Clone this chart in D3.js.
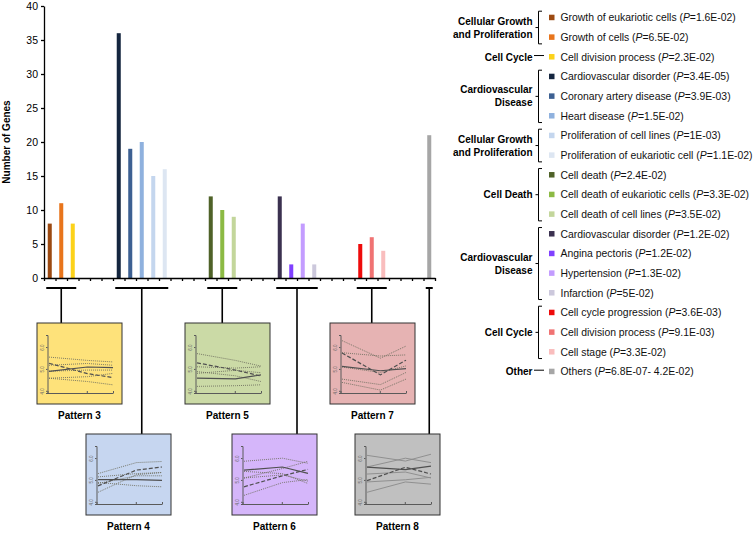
<!DOCTYPE html>
<html>
<head>
<meta charset="utf-8">
<script src="https://cdn.jsdelivr.net/npm/d3@7"></script>
<style>
	body { margin: 0; background: #fff; }
	svg { font-family: "Liberation Sans", Arial, sans-serif; }
</style>
</head>
<body>
<svg id="chart" width="756" height="534"></svg>
<script>
// legend rows / bars, in order
let categories = ['Growth of eukariotic cells', 'Growth of cells', 'Cell division process',
	'Cardiovascular disorder', 'Coronary artery disease', 'Heart disease',
	'Proliferation of cell lines', 'Proliferation of eukariotic cell',
	'Cell death', 'Cell death of eukariotic cells', 'Cell death of cell lines',
	'Cardiovascular disorder', 'Angina pectoris', 'Hypertension', 'Infarction',
	'Cell cycle progression', 'Cell division process', 'Cell stage', 'Others'];
let pValues = ['1.6E-02', '6.5E-02', '2.3E-02', '3.4E-05', '3.9E-03', '1.5E-02', '1E-03', '1.1E-02',
	'2.4E-02', '3.3E-02', '3.5E-02', '1.2E-02', '1.2E-02', '1.3E-02', '5E-02',
	'3.6E-03', '9.1E-03', '3.3E-02', '6.8E-07- 4.2E-02'];
let geneCounts = [8, 11, 8, 36, 19, 20, 15, 16, 12, 10, 9, 12, 2, 8, 2, 5, 6, 4, 21];
// slot on the x axis for each bar
let barSlots = [0, 1, 2, 6, 7, 8, 9, 10, 14, 15, 16, 20, 21, 22, 23, 27, 28, 29, 33];
let barColors = ['#9c4a12', '#e8751c', '#fcd21a', '#15263f', '#3d6092', '#8fb1de', '#c4d6ee', '#dde6f2',
	'#4f6228', '#8cba44', '#c3d69b', '#3b3150', '#8040ff', '#c39cff', '#ccc8dc',
	'#ee0b0b', '#f07373', '#f9bdbd', '#a6a6a6'];
let yTicks = [0, 5, 10, 15, 20, 25, 30, 35, 40];

let functionGroups = [
	{label: ['Cellular Growth', 'and Proliferation'], from: 0, to: 1},
	{label: ['Cell Cycle'], from: 2, to: 2},
	{label: ['Cardiovascular', 'Disease'], from: 3, to: 5},
	{label: ['Cellular Growth', 'and Proliferation'], from: 6, to: 7},
	{label: ['Cell Death'], from: 8, to: 10},
	{label: ['Cardiovascular', 'Disease'], from: 11, to: 14},
	{label: ['Cell Cycle'], from: 15, to: 17},
	{label: ['Other'], from: 18, to: 18}
];

// expression patterns (time points 0,3,5), values on a 4.0-6.0 scale
let patternNames = ['Pattern 3', 'Pattern 4', 'Pattern 5', 'Pattern 6', 'Pattern 7', 'Pattern 8'];
let patternFrom = [0, 3, 8, 11, 15, 18];
let patternTo = [2, 7, 10, 14, 17, 18];
let patternFills = ['#fee27a', '#c6d6f0', '#cbdaa6', '#d5b6fa', '#e6b3b3', '#c0c0c0'];
let miniTimes = [0, 3, 5];
let miniTicks = [4, 5, 6];
let solidLines = [[4.8, 5.0, 4.97], [4.93, 4.93, 4.89], [4.49, 4.46, 4.64], [5.36, 5.5, 5.21], [5.03, 4.83, 4.93], [5.49, 5.38, 5.54]];
let dashedLines = [[5.17, 4.7, 4.52], [4.64, 5.36, 5.5], [5.19, 4.86, 4.59], [4.6, 5.1, 5.39], [5.64, 4.64, 5.31], [4.88, 5.49, 5.18]];
let dottedLines = [
	[[5.45, 5.3, 5.23], [5.08, 5.16, 5.08], [4.81, 4.86, 4.86], [4.49, 4.56, 4.71], [4.49, 4.34, 4.19]],
	[[5.2, 5.7, 5.75], [5.05, 5.2, 5.25], [4.75, 5.1, 5.1], [4.8, 4.65, 4.6], [4.35, 5.15, 5.25]],
	[[5.61, 5.3, 5.04], [5.01, 4.95, 5.01], [4.79, 4.6, 4.34], [4.71, 4.85, 4.74], [4.12, 4.15, 4.19]],
	[[5.76, 5.9, 5.67], [5.0, 5.43, 5.76], [5.0, 5.14, 4.86], [4.21, 4.79, 4.93], [5.3, 5.2, 4.75]],
	[[6.2, 5.4, 5.95], [5.65, 5.5, 5.55], [5.0, 4.75, 5.05], [4.45, 4.2, 4.75], [4.3, 3.95, 4.45]],
	[[6.03, 5.77, 6.08], [5.5, 5.9, 5.7], [5.18, 5.27, 5.0], [4.82, 4.92, 5.03], [4.35, 4.82, 4.72]]
];

// layout
let boxLayout = [[37, 323], [86, 434], [185, 323], [232, 434], [330, 323], [355, 434]];
let boxW = 85, boxH = 81;

let svg = d3.select('#chart');

let x = d3.scaleBand()
	.domain(d3.range(34))
	.range([44, 435])
	.paddingInner(0.65)
	.paddingOuter(0.325);
let xLin = d3.scaleLinear().domain([0, 34]).range([44, 435]);
let y = d3.scaleLinear().domain([0, 40]).range([278, 6]);

// bars
svg.append('g')
	.selectAll('rect')
	.data(geneCounts)
	.join('rect')
	.attr('x', (d, i) => x(barSlots[i]))
	.attr('y', d => y(d))
	.attr('width', x.bandwidth())
	.attr('height', d => y(0) - y(d))
	.attr('fill', (d, i) => barColors[i]);

// axes
let yAxis = svg.append('g')
	.attr('transform', 'translate(44,0)')
	.call(d3.axisLeft(y).tickValues(yTicks).tickSize(3).tickSizeOuter(0));
yAxis.selectAll('text').attr('font-size', 10.5).attr('fill', '#000');
yAxis.selectAll('line, path').attr('stroke', '#000').attr('stroke-width', 1.3);

let xAxis = svg.append('g')
	.attr('transform', 'translate(0,278)')
	.call(d3.axisBottom(xLin).tickValues(d3.range(35)).tickFormat('').tickSize(3).tickSizeOuter(0));
xAxis.selectAll('line, path').attr('stroke', '#000').attr('stroke-width', 1.3);

svg.append('text')
	.attr('transform', 'translate(10,142) rotate(-90)')
	.attr('text-anchor', 'middle')
	.attr('font-size', 10)
	.attr('font-weight', 'bold')
	.text('Number of Genes');

// brackets under axis + patterns
let barCenter = i => x(barSlots[i]) + x.bandwidth() / 2;

patternNames.forEach(function(name, p) {
	let x0 = barCenter(patternFrom[p]) - 3.5;
	let x1 = barCenter(patternTo[p]) + 3.5;
	let cx = (barCenter(patternFrom[p]) + barCenter(patternTo[p])) / 2;
	let bx = boxLayout[p][0], by = boxLayout[p][1];

	svg.append('line')
		.attr('x1', x0).attr('x2', x1).attr('y1', 288).attr('y2', 288)
		.attr('stroke', '#000').attr('stroke-width', 2);
	svg.append('line')
		.attr('x1', cx).attr('x2', cx).attr('y1', 288).attr('y2', by)
		.attr('stroke', '#000').attr('stroke-width', 1.6);

	let g = svg.append('g').attr('transform', 'translate(' + bx + ',' + by + ')');
	g.append('rect')
		.attr('width', boxW).attr('height', boxH)
		.attr('fill', patternFills[p])
		.attr('stroke', '#333').attr('stroke-width', 1);

	let mx = d3.scaleLinear().domain([0, 5]).range([12, 76]);
	let my = d3.scaleLinear().domain([4, 6]).range([66, 22]);

	let ya = g.append('g')
		.attr('transform', 'translate(10.5,0)')
		.call(d3.axisLeft(my.copy().domain([3.9, 6.55]).range([70, 12])).tickValues(miniTicks).tickSize(1.5).tickFormat(d3.format('.1f')));
	ya.selectAll('line, path').attr('stroke', '#5a5a5a').attr('stroke-width', 1);
	ya.selectAll('.tick text')
		.attr('font-size', 4.5).attr('fill', '#666')
		.attr('x', 0).attr('dy', 0).attr('y', -3.5)
		.attr('text-anchor', 'middle')
		.attr('transform', 'rotate(-90)');

	let xa = g.append('g')
		.attr('transform', 'translate(0,70)')
		.call(d3.axisBottom(mx.copy().range([10.5, 76])).tickValues(miniTimes).tickSize(-2).tickFormat('').tickSizeOuter(0));
	xa.selectAll('line, path').attr('stroke', '#5a5a5a').attr('stroke-width', 1);

	let line = d3.line().x((d, i) => mx(miniTimes[i])).y(d => my(d));
	let dotColor = p === 5 ? '#8a8a8a' : '#6f6f60';
	dottedLines[p].forEach(function(vals) {
		g.append('path').attr('d', line(vals)).attr('fill', 'none')
			.attr('stroke', dotColor).attr('stroke-width', 0.9)
			.attr('stroke-dasharray', p === 5 ? null : '1,1');
	});
	g.append('path').attr('d', line(dashedLines[p])).attr('fill', 'none')
		.attr('stroke', '#505050').attr('stroke-width', 1.2).attr('stroke-dasharray', '4,2');
	g.append('path').attr('d', line(solidLines[p])).attr('fill', 'none')
		.attr('stroke', '#505050').attr('stroke-width', 1.2);

	svg.append('text')
		.attr('x', bx + boxW / 2).attr('y', by + boxH + 15)
		.attr('text-anchor', 'middle')
		.attr('font-size', 10).attr('font-weight', 'bold')
		.text(name);
});

// legend
let ly = d3.scalePoint().domain(d3.range(categories.length)).range([17.7, 371.7]);

let legendRows = svg.append('g').selectAll('g')
	.data(categories)
	.join('g')
	.attr('transform', (d, i) => 'translate(0,' + ly(i) + ')');
legendRows.append('rect')
	.attr('x', 549).attr('y', -3).attr('width', 5.5).attr('height', 5.5)
	.attr('fill', (d, i) => barColors[i]);
let lt = legendRows.append('text')
	.attr('x', 560.5).attr('dy', '0.35em')
	.attr('font-size', 10.4)
	.attr('fill', '#111');
lt.append('tspan').text(d => d + ' (');
lt.append('tspan').attr('font-style', 'italic').text('P');
lt.append('tspan').text((d, i) => '=' + pValues[i] + ')');

functionGroups.forEach(function(gr) {
	let y0 = ly(gr.from), y1 = ly(gr.to), mid = (y0 + y1) / 2;
	let txt = svg.append('text')
		.attr('x', 532.5)
		.attr('text-anchor', 'end')
		.attr('font-size', 10)
		.attr('font-weight', 'bold');
	gr.label.forEach(function(s, k) {
		txt.append('tspan')
			.attr('x', 532.5)
			.attr('y', mid + (k - (gr.label.length - 1) / 2) * 13)
			.attr('dy', '0.35em')
			.text(s);
	});
	if (gr.from === gr.to) {
		svg.append('line')
			.attr('x1', 534).attr('x2', 544).attr('y1', mid - 1.5).attr('y2', mid - 1.5)
			.attr('stroke', '#000').attr('stroke-width', 1);
	} else {
		svg.append('path')
			.attr('d', 'M542,' + (y0 - 6.5) + 'H538.5V' + (y1 + 6.5) + 'H542M538.5,' + mid + 'H535.5')
			.attr('fill', 'none').attr('stroke', '#000').attr('stroke-width', 1);
	}
});
</script>
</body>
</html>
